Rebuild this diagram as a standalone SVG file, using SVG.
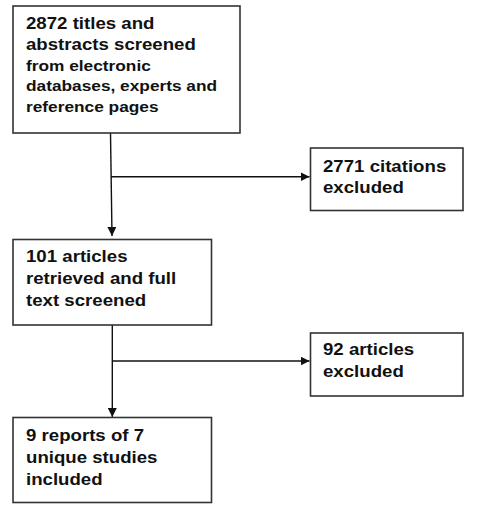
<svg xmlns="http://www.w3.org/2000/svg" width="477" height="514" viewBox="0 0 477 514">
<style>
.box{fill:#fff;stroke:#333;stroke-width:1.6}
.t{font-family:"Liberation Sans",Arial,sans-serif;font-weight:bold;fill:#111}
.big{font-size:16.5px}
.sm{font-size:15.3px}
.c{stroke:#111;stroke-width:1.4;fill:none}
</style>
<defs>
<marker id="ah" markerUnits="userSpaceOnUse" markerWidth="10" markerHeight="9" refX="9" refY="4.5" orient="auto">
<path d="M0,0 L9,4.5 L0,9 Z" fill="#111"/>
</marker>
</defs>
<rect width="477" height="514" fill="#fff"/>
<g id="connectors">
<path class="c" d="M110.5,133 L112,236" marker-end="url(#ah)"/>
<path class="c" d="M111,176.7 L309.5,176.7" marker-end="url(#ah)"/>
<path class="c" d="M112.3,325 L112.3,417" marker-end="url(#ah)"/>
<path class="c" d="M112.3,361 L309.5,361" marker-end="url(#ah)"/>
</g>
<g id="n1">
<rect class="box" x="13" y="6" width="227" height="127"/>
<text class="t" transform="translate(26 0) scale(1.13 1)">
<tspan class="big" x="0" y="29">2872 titles and</tspan>
<tspan class="big" x="0" y="50">abstracts screened</tspan>
<tspan class="sm" x="0" y="71.5">from electronic</tspan>
<tspan class="sm" x="0" y="91.5">databases, experts and</tspan>
<tspan class="sm" x="0" y="112">reference pages</tspan>
</text>
</g>
<g id="n2">
<rect class="box" x="310.5" y="148" width="152.5" height="62.5"/>
<text class="t big" transform="translate(323 0) scale(1.13 1)">
<tspan x="0" y="171.7">2771 citations</tspan>
<tspan x="0" y="193">excluded</tspan>
</text>
</g>
<g id="n3">
<rect class="box" x="13" y="239.5" width="198.5" height="85.5"/>
<text class="t big" transform="translate(26 0) scale(1.13 1)">
<tspan x="0" y="262.3">101 articles</tspan>
<tspan x="0" y="284.3">retrieved and full</tspan>
<tspan x="0" y="306.5">text screened</tspan>
</text>
</g>
<g id="n4">
<rect class="box" x="310.5" y="333" width="152.5" height="63"/>
<text class="t big" transform="translate(323 0) scale(1.13 1)">
<tspan x="0" y="355">92 articles</tspan>
<tspan x="0" y="377.5">excluded</tspan>
</text>
</g>
<g id="n5">
<rect class="box" x="13" y="417.5" width="198.5" height="85"/>
<text class="t big" transform="translate(26 0) scale(1.13 1)">
<tspan x="0" y="440.7">9 reports of 7</tspan>
<tspan x="0" y="462.7">unique studies</tspan>
<tspan x="0" y="485">included</tspan>
</text>
</g>
</svg>
